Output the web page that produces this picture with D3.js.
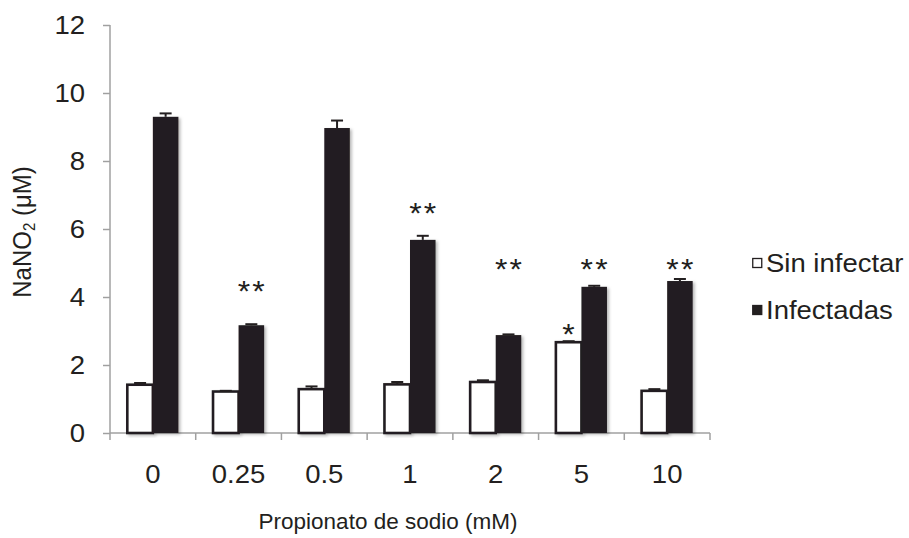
<!DOCTYPE html>
<html>
<head>
<meta charset="utf-8">
<script src="https://cdn.jsdelivr.net/npm/d3@7"></script>
<style>
  html, body { margin: 0; padding: 0; background: #ffffff; }
  svg { display: block; }
  text { font-family: "Liberation Sans", Arial, sans-serif; fill: #231f20; }
</style>
</head>
<body>
<svg id="chart" width="909" height="538"></svg>
<script>
// Nitrite production by macrophages treated with sodium propionate
const categories = ["0", "0.25", "0.5", "1", "2", "5", "10"];
const sinInfectar = [1.42, 1.22, 1.29, 1.43, 1.50, 2.67, 1.24];
const sinInfectarErr = [0.05, 0.02, 0.08, 0.07, 0.05, 0.03, 0.05];
const infectadas = [9.30, 3.17, 8.97, 5.68, 2.88, 4.30, 4.47];
const infectadasErr = [0.10, 0.03, 0.22, 0.12, 0.02, 0.03, 0.06];
// significance marks and the value level each is written at
const sinInfectarSig = ["", "", "", "", "", "*", ""];
const sinInfectarSigAt = [null, null, null, null, null, 3.1, null];
const infectadasSig = ["", "**", "", "**", "**", "**", "**"];
const infectadasSigAt = [null, 4.35, null, 6.65, 5.0, 5.0, 5.0];
const yTicks = [0, 2, 4, 6, 8, 10, 12];
const seriesNames = ["Sin infectar", "Infectadas"];

const INK = "#231f20";
const AXIS = "#a0a0a0";
const STRETCH = 1.1;

const svg = d3.select("#chart");

const x0 = 110, x1 = 710, yTop = 25, yBottom = 433;

const x = d3.scaleBand().domain(categories).range([x0, x1]).paddingInner(0).paddingOuter(0);
const y = d3.scaleLinear().domain([0, 12]).range([yBottom, yTop]);
const barW = x.bandwidth() * 0.298;

// soft shadow behind the bars
const defs = svg.append("defs");
const f = defs.append("filter").attr("id", "shadow")
  .attr("x", "-20%").attr("y", "-5%").attr("width", "150%").attr("height", "115%");
f.append("feDropShadow").attr("dx", 2).attr("dy", 1.5).attr("stdDeviation", 1.6)
  .attr("flood-color", "#000").attr("flood-opacity", 0.28);

function stretchedText(sel, px, py) {
  return sel.attr("transform", `translate(${px},${py}) scale(${STRETCH},1)`);
}

// y axis
const yAxis = d3.axisLeft(y).tickValues(yTicks).tickSize(7).tickPadding(0).tickFormat(d3.format("d"));
const gy = svg.append("g").attr("transform", `translate(${x0},0)`).call(yAxis);
gy.select(".domain").attr("stroke", AXIS).attr("stroke-width", 1.5).attr("d", `M0,${yTop}V${yBottom}`);
gy.selectAll(".tick line").attr("stroke", AXIS).attr("stroke-width", 1.5);
gy.selectAll(".tick text").each(function(d) {
  const t = d3.select(this);
  t.attr("x", null).attr("dy", null).attr("y", null)
    .attr("text-anchor", "end").attr("dominant-baseline", "central")
    .style("font-size", "25px").attr("fill", INK);
  stretchedText(t, -25, 0);
});

// x axis: ticks sit on category boundaries
const gx = svg.append("g").attr("transform", `translate(0,${yBottom})`);
gx.append("line").attr("x1", x0).attr("x2", x1).attr("y1", 0).attr("y2", 0)
  .attr("stroke", AXIS).attr("stroke-width", 1.5);
const bounds = categories.map(c => x(c)).concat([x(categories[categories.length - 1]) + x.bandwidth()]);
gx.selectAll("line.b").data(bounds).join("line").attr("class", "b")
  .attr("x1", d => d).attr("x2", d => d).attr("y1", 0).attr("y2", 7)
  .attr("stroke", AXIS).attr("stroke-width", 1.5);
gx.selectAll("text.cat").data(categories).join("text").attr("class", "cat")
  .attr("text-anchor", "middle").attr("dominant-baseline", "central")
  .style("font-size", "25px")
  .each(function(d) { stretchedText(d3.select(this), x(d) + x.bandwidth() / 2, 41); })
  .text(d => d);

// bars
const plot = svg.append("g");
const rows = categories.map((c, i) => ({ c, i }));

plot.selectAll("rect.sin").data(rows).join("rect").attr("class", "sin")
  .attr("x", d => x(d.c) + x.bandwidth() / 2 - barW)
  .attr("y", d => y(sinInfectar[d.i]))
  .attr("width", barW)
  .attr("height", d => yBottom - y(sinInfectar[d.i]))
  .attr("fill", "#ffffff").attr("stroke", INK).attr("stroke-width", 2.6)
  .attr("filter", "url(#shadow)");

plot.selectAll("rect.inf").data(rows).join("rect").attr("class", "inf")
  .attr("x", d => x(d.c) + x.bandwidth() / 2)
  .attr("y", d => y(infectadas[d.i]))
  .attr("width", barW)
  .attr("height", d => yBottom - y(infectadas[d.i]))
  .attr("fill", INK)
  .attr("filter", "url(#shadow)");

// upper error bars
function errorBars(vals, errs, offset, cls) {
  const g = plot.append("g").attr("class", cls).attr("stroke", INK).attr("stroke-width", 2);
  rows.forEach(d => {
    const cx = x(d.c) + x.bandwidth() / 2 + offset;
    const top = y(vals[d.i] + errs[d.i]);
    g.append("line").attr("x1", cx).attr("x2", cx).attr("y1", y(vals[d.i])).attr("y2", top);
    g.append("line").attr("x1", cx - 6).attr("x2", cx + 6).attr("y1", top).attr("y2", top);
  });
}
errorBars(sinInfectar, sinInfectarErr, -barW / 2, "err-sin");
errorBars(infectadas, infectadasErr, barW / 2, "err-inf");

// significance marks
function sigMarks(marks, at, offset) {
  plot.selectAll(null).data(rows.filter(d => marks[d.i])).join("text")
    .attr("text-anchor", "middle").attr("dominant-baseline", "central")
    .attr("dy", "0.2em")
    .style("font-size", "29px").style("letter-spacing", "2px")
    .each(function(d) { stretchedText(d3.select(this), x(d.c) + x.bandwidth() / 2 + offset + 1, y(at[d.i])); })
    .text(d => marks[d.i]);
}
sigMarks(sinInfectarSig, sinInfectarSigAt, -barW / 2);
sigMarks(infectadasSig, infectadasSigAt, barW / 2);

// axis titles
svg.append("text").attr("text-anchor", "middle").attr("dominant-baseline", "central")
  .attr("transform", "translate(388,521)")
  .style("font-size", "22.5px").text("Propionato de sodio (mM)");

const yt = svg.append("text").attr("text-anchor", "middle").attr("dominant-baseline", "central")
  .attr("transform", `translate(22,${(yTop + yBottom) / 2 + 3}) rotate(-90) scale(1,${STRETCH})`)
  .style("font-size", "24px");
yt.append("tspan").text("NaNO");
yt.append("tspan").attr("dy", 6).style("font-size", "15px").text("2");
yt.append("tspan").attr("dy", -6).text(" (μM)");

// legend
const legend = svg.append("g").attr("transform", "translate(752,0)");
const legendY = [263, 310];
seriesNames.forEach((name, i) => {
  legend.append("rect").attr("x", 0.75).attr("y", legendY[i] - 4.5).attr("width", 9).attr("height", 9)
    .attr("fill", i === 0 ? "#ffffff" : INK).attr("stroke", INK).attr("stroke-width", 1.3);
  const t = legend.append("text").attr("dominant-baseline", "central")
    .style("font-size", "25px").text(name);
  stretchedText(t, 14, legendY[i]);
});
</script>
</body>
</html>
